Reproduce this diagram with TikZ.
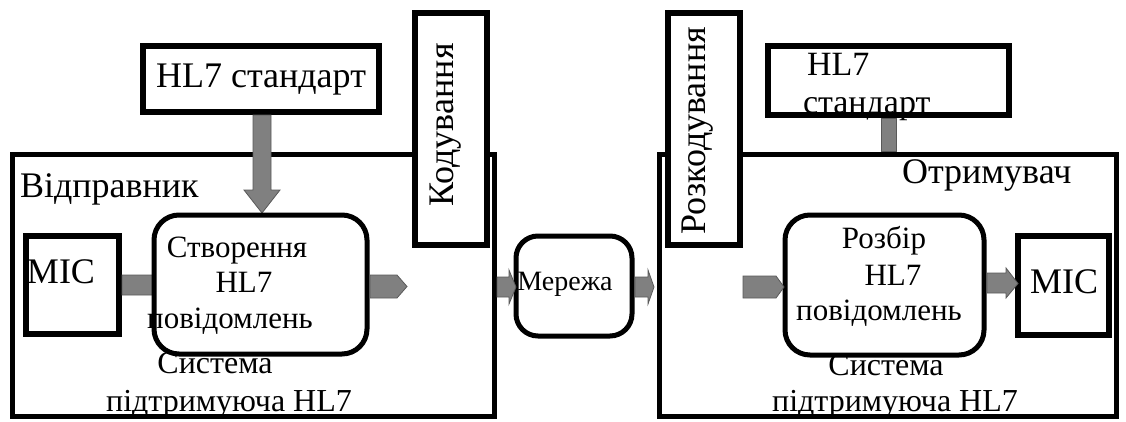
\documentclass[tikz,border=0pt]{standalone}
\usepackage{fontspec}
\setmainfont{Liberation Serif}
\usetikzlibrary{calc}
\tikzset{
  frame/.style={draw, line width=5pt, inner sep=0pt, outer sep=0pt},
  thick box/.style={draw, line width=6pt, fill=white, inner sep=0pt, outer sep=0pt},
  round box/.style={draw, line width=5pt, fill=white, rounded corners=25pt, inner sep=0pt, outer sep=0pt},
  blk/.style={fill=black!50, draw=black!65, line width=0.8pt},
  txt/.style={inner sep=0pt, outer sep=0pt},
  big/.style={txt, font=\fontsize{36}{40}\selectfont},
  med/.style={txt, font=\fontsize{31}{34}\selectfont},
  sysf/.style={txt, font=\fontsize{32}{36}\selectfont},
  small/.style={txt, font=\fontsize{28}{30}\selectfont},
}
\begin{document}
\begin{tikzpicture}[x=1pt,y=-1pt]
\useasboundingbox[fill=white] (0,0) rectangle (1126,421);

% outer frames
\node[frame, minimum width=482pt, minimum height=262pt] (outL) at (253,285) {};
\node[frame, minimum width=457pt, minimum height=262pt] (outR) at (887.5,285) {};

% coding boxes
\node[thick box, minimum width=72pt, minimum height=232pt] (kod) at (451,129) {};
\node[thick box, minimum width=72pt, minimum height=232pt] (rozk) at (704,129) {};
\node[big, rotate=90, anchor=base] (kodt) at (453,125) {Кодування};
\node[big, rotate=90, anchor=base] (rozkt) at (705,131) {Розкодування};

% standard boxes
\node[thick box, minimum width=236pt, minimum height=66pt] (hlL) at (261,79) {};
\node[big, anchor=base] (hlLt) at (261,87) {HL7 стандарт};
\node[thick box, minimum width=241pt, minimum height=69pt] (hlR) at (888.5,80.5) {};

% labels of frames
\node[big, anchor=base west] (sendt) at (20,197) {Відправник};
\node[big, anchor=base west] (recvt) at (902,183) {Отримувач};

% system captions (drawn before the rounded boxes)
\node[sysf, anchor=base] (sysL1) at (215,373) {Система};
\node[sysf, anchor=base] (sysL2) at (229,411) {підтримуюча HL7};
\node[sysf, anchor=base] (sysR1) at (886,375) {Система};
\node[sysf, anchor=base] (sysR2) at (895,411) {підтримуюча HL7};

% MIC boxes
\node[thick box, minimum width=93pt, minimum height=98pt] (micL) at (72.5,285) {};
\node[thick box, minimum width=91pt, minimum height=99pt] (micR) at (1063.5,285.5) {};
\node[big, anchor=base west] (micLt) at (27,283) {MIC};
\node[big, anchor=base west] (micRt) at (1030,293) {MIC};

% arrows drawn under the boxes they point into
\path[blk] ($(hlL.south)+(-8,3)$) -- ($(hlL.south)+(10,3)$) -- ($(hlL.south)+(10,78)$)
  -- ($(hlL.south)+(19,78)$) -- ($(hlL.south)+(1,101)$) -- ($(hlL.south)+(-17,78)$)
  -- ($(hlL.south)+(-8,78)$) -- cycle;
\path[blk] ($(micL.east)+(3,-10)$) -- ($(micL.east)+(73,-10)$) -- ($(micL.east)+(73,-17)$)
  -- ($(micL.east)+(81,0)$) -- ($(micL.east)+(73,17)$) -- ($(micL.east)+(73,10)$)
  -- ($(micL.east)+(3,10)$) -- cycle;

% processing boxes
\node[round box, minimum width=213pt, minimum height=139pt] (crL) at (260.5,284.5) {};
\node[round box, rounded corners=22pt, minimum width=116pt, minimum height=100pt] (mer) at (574,286) {};
\node[round box, minimum width=199pt, minimum height=140pt] (rozb) at (884.5,285) {};

\node[med, anchor=base] (crL1) at (237,257) {Створення};
\node[med, anchor=base] (crL2) at (244,292) {HL7};
\node[med, anchor=base] (crL3) at (230,328) {повідомлень};
\node[med, anchor=base] (rozb1) at (884,248) {Розбір};
\node[med, anchor=base] (rozb2) at (893,285) {HL7};
\node[med, anchor=base] (rozb3) at (879,320) {повідомлень};
\node[small, anchor=base] (mert) at (565,290) {Мережа};

\node[big, font=\fontsize{34}{38}\selectfont, anchor=base west] (hlRt1) at (807,75) {HL7};
\node[big, font=\fontsize{34}{38}\selectfont, anchor=base west] (hlRt2) at (803,113) {стандарт};

% remaining block arrows
\path[blk] ($(crL.east)+(3,-9.5)$) -- ($(crL.east)+(30,-9.5)$) -- ($(crL.east)+(40,2)$)
  -- ($(crL.east)+(30,13.5)$) -- ($(crL.east)+(3,13.5)$) -- cycle;
\path[blk] ($(outL.east)+(3,-8)$) -- ($(outL.east)+(15,-8)$) -- ($(outL.east)+(15,-15)$)
  -- ($(outL.east)+(22,2)$) -- ($(outL.east)+(15,19)$) -- ($(outL.east)+(15,12)$)
  -- ($(outL.east)+(3,12)$) -- cycle;
\path[blk] ($(mer.east)+(3,-9)$) -- ($(mer.east)+(16,-9)$) -- ($(mer.east)+(16,-16)$)
  -- ($(mer.east)+(22,1)$) -- ($(mer.east)+(16,18)$) -- ($(mer.east)+(16,11)$)
  -- ($(mer.east)+(3,11)$) -- cycle;
\path[blk] ($(rozb.west)+(-42,-9)$) -- ($(rozb.west)+(-9,-9)$) -- ($(rozb.west)+(-1,2)$)
  -- ($(rozb.west)+(-9,13)$) -- ($(rozb.west)+(-42,13)$) -- cycle;
\path[blk] ($(rozb.east)+(3,-12)$) -- ($(rozb.east)+(22,-12)$) -- ($(rozb.east)+(22,-17)$)
  -- ($(micR.west)+(0,-2)$) -- ($(rozb.east)+(22,13)$) -- ($(rozb.east)+(22,8)$)
  -- ($(rozb.east)+(3,8)$) -- cycle;
\path[blk] ($(hlR.south)+(-7.5,3)$) rectangle ($(outR.north)+(8.5,-2.5)$);
\end{tikzpicture}
\end{document}
